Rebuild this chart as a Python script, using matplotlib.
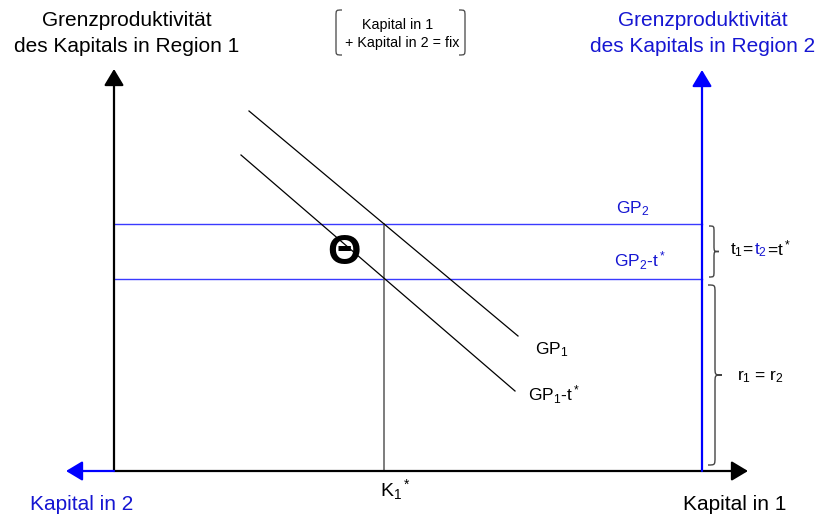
import matplotlib
matplotlib.use('Agg')
import matplotlib.pyplot as plt
from matplotlib.path import Path
from matplotlib.patches import PathPatch

plt.rcParams['font.family'] = ['Liberation Sans', 'DejaVu Sans']
plt.rcParams['mathtext.fontset'] = 'custom'
plt.rcParams['mathtext.rm'] = 'Liberation Sans'
plt.rcParams['mathtext.it'] = 'Liberation Sans'
plt.rcParams['mathtext.default'] = 'rm'

BLUE = '#0000ff'
TBLUE = '#1616d2'

# diagram geometry (pixel units of the original sketch)
origin = (114, 471)
right_axis_x = 702
top_tip = 69
right_tip = 748
left_tip = 66
gp2_level = 224
gp2_t_level = 279
k1_star = 384
gp1_x = [249, 518]
gp1_y = [111, 336]
gp1t_x = [241, 515]
gp1t_y = [155, 391]

fig = plt.figure(figsize=(8.23, 5.17), dpi=100)
ax = fig.add_axes([0, 0, 1, 1])
ax.set_xlim(0, 823)
ax.set_ylim(517, 0)
ax.axis('off')


def arrow(start, tip, color):
    ax.annotate('', xy=tip, xytext=start,
                arrowprops=dict(arrowstyle='-|>,head_length=0.5,head_width=0.3',
                                mutation_scale=20, color=color, lw=1.6,
                                shrinkA=0, shrinkB=0))


def brace(x0, ytop, ybot, w, r):
    mid = (ytop + ybot) / 2.0
    xm = x0 + w / 2.0
    verts = [(x0, ytop), (xm, ytop), (xm, ytop), (xm, ytop + r),
             (xm, mid - r),
             (xm, mid), (xm, mid), (x0 + w, mid),
             (xm, mid), (xm, mid), (xm, mid + r),
             (xm, ybot - r),
             (xm, ybot), (xm, ybot), (x0, ybot)]
    codes = [Path.MOVETO] + [Path.CURVE4] * 3 + [Path.LINETO] + [Path.CURVE4] * 6 + \
            [Path.LINETO] + [Path.CURVE4] * 3
    ax.add_patch(PathPatch(Path(verts, codes), fill=False, ec='#444444', lw=1.0))


def paren(x_out, x_in, ytop, ybot, r):
    verts = [(x_in, ytop), (x_out, ytop), (x_out, ytop), (x_out, ytop + r),
             (x_out, ybot - r),
             (x_out, ybot), (x_out, ybot), (x_in, ybot)]
    codes = [Path.MOVETO] + [Path.CURVE4] * 3 + [Path.LINETO] + [Path.CURVE4] * 3
    ax.add_patch(PathPatch(Path(verts, codes), fill=False, ec='#444444', lw=0.9))


# axes
arrow(origin, (origin[0], top_tip), 'black')
arrow(origin, (right_tip, origin[1]), 'black')
arrow(origin, (left_tip, origin[1]), BLUE)
arrow((right_axis_x, origin[1]), (right_axis_x, top_tip + 1), BLUE)

# levels
ax.plot([origin[0], right_axis_x], [gp2_level, gp2_level], color='#3a3aff', lw=1.0)
ax.plot([origin[0], right_axis_x], [gp2_t_level, gp2_t_level], color='#3a3aff', lw=1.0)
ax.plot([k1_star, k1_star], [gp2_level, origin[1]], color='#666666', lw=1.2)

# marginal product curves
ax.plot(gp1_x, gp1_y, color='black', lw=0.9)
ax.plot(gp1t_x, gp1t_y, color='black', lw=0.9)

# braces
brace(709, 226, 277, 10, 6)
brace(708, 285, 465, 14, 8)
paren(336, 342, 10, 55, 6)
paren(465, 459, 10, 55, 6)

# texts
fs = 15
ax.text(127, 20, 'Grenzproduktivität', ha='center', va='center', fontsize=fs)
ax.text(127, 47, 'des Kapitals in Region 1', ha='center', va='center', fontsize=fs)
ax.text(703, 20, 'Grenzproduktivität', ha='center', va='center', fontsize=fs, color=TBLUE)
ax.text(703, 47, 'des Kapitals in Region 2', ha='center', va='center', fontsize=fs, color=TBLUE)
ax.text(398, 25, 'Kapital in 1', ha='center', va='center', fontsize=10.3)
ax.text(402, 43, '+ Kapital in 2 = fix', ha='center', va='center', fontsize=10.3)

ax.text(82, 505, 'Kapital in 2', ha='center', va='center', fontsize=fs, color=TBLUE)
ax.text(735, 505, 'Kapital in 1', ha='center', va='center', fontsize=fs)
ax.text(380, 490, r'K$_1$$^*$', ha='left', va='center', fontsize=14)

ax.text(616, 209, r'GP$_2$', ha='left', va='center', fontsize=12.5, color=TBLUE)
ax.text(614, 261, r'GP$_2$-t$^*$', ha='left', va='center', fontsize=12.5, color=TBLUE)
ax.text(535, 350, r'GP$_1$', ha='left', va='center', fontsize=12.5)
ax.text(528, 395, r'GP$_1$-t$^*$', ha='left', va='center', fontsize=12.5)

t1 = ax.text(730, 250, r't$_1$=', ha='left', va='center', fontsize=12.5)
t2 = ax.annotate(r't$_2$', xy=(1, 0), xycoords=t1, ha='left', va='bottom',
                 fontsize=12.5, color=TBLUE)
ax.annotate(r'=t$^*$', xy=(1, 0), xycoords=t2, ha='left', va='bottom', fontsize=12.5)
ax.text(737, 377, r'r$_1$ = r$_2$', ha='left', va='center', fontsize=12.5)

ax.text(344, 253, 'Θ', ha='center', va='center', fontsize=31, fontweight='bold')

fig.savefig('out.png', dpi=100)
